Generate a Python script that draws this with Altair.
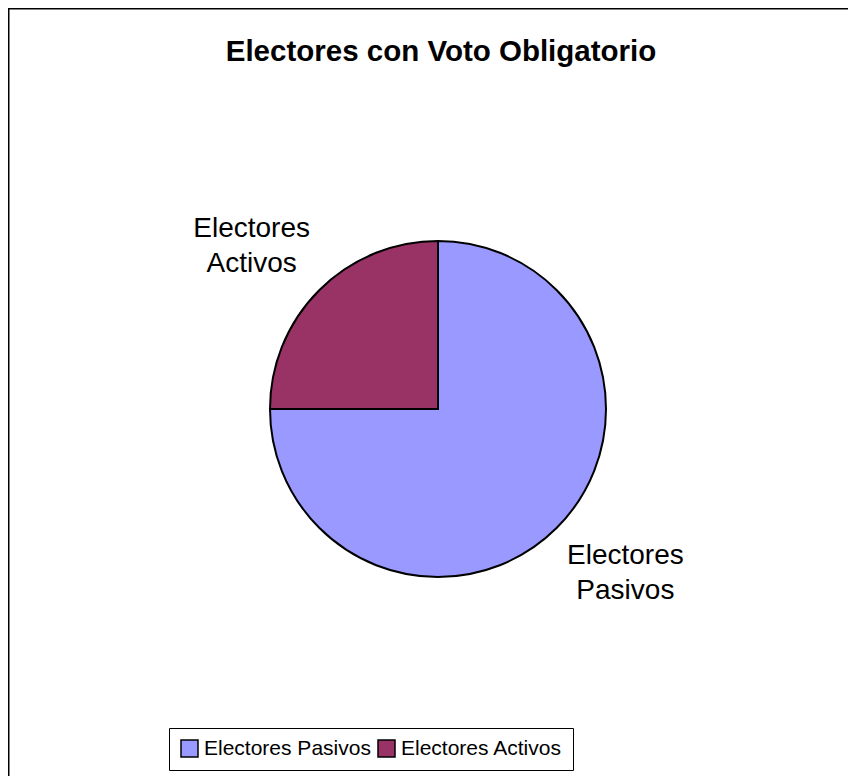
import altair as alt
import pandas as pd

# ---- data ----
categorias = ["Electores Pasivos", "Electores Activos"]
etiquetas = ["Electores\nPasivos", "Electores\nActivos"]
valores = [75, 25]
orden = [1, 2]
colores = ["#9999FF", "#993366"]
titulo = ["Electores con Voto Obligatorio"]

W, H = 840, 768
CX, CY = 430, 401

df = pd.DataFrame({"categoria": categorias, "etiqueta": etiquetas,
                   "valor": valores, "orden": orden})

pie = alt.Chart(df).mark_arc(outerRadius=168, stroke="black", strokeWidth=2).encode(
    theta=alt.Theta("valor:Q", stack=True),
    order=alt.Order("orden:Q"),
    x=alt.value(CX),
    y=alt.value(CY),
    color=alt.Color(
        "categoria:N",
        scale=alt.Scale(domain=categorias, range=colores),
        sort=categorias,
        legend=alt.Legend(
            title=None,
            orient="none",
            legendX=161,
            legendY=720,
            direction="horizontal",
            symbolType="square",
            symbolSize=289,
            symbolStrokeColor="black",
            symbolStrokeWidth=1.5,
            symbolOpacity=1,
            labelFont="Liberation Sans Narrow, Arial Narrow, Liberation Sans, Arial",
            labelFontSize=21,
            labelColor="black",
            labelOffset=4,
            columnPadding=4,
            padding=10,
            strokeColor="black",
            fillColor="white",
            labelLimit=400,
        ),
    ),
)

# stacked positions computed once, then each label is picked out
label_base = alt.Chart(df).transform_stack(
    stack="valor", groupby=[], as_=["v0", "v1"], sort=[alt.SortField("orden")]
).transform_calculate(
    mid="(datum.v0 + datum.v1) / 2"
).encode(
    theta=alt.Theta("mid:Q"),
    x=alt.value(CX),
    y=alt.value(CY),
    text="etiqueta:N",
)

text_style = dict(
    radius=248,
    font="Liberation Sans, Arial",
    fontSize=28,
    lineBreak="\n",
    lineHeight=35,
    align="center",
    baseline="middle",
    color="black",
)

label_pasivos = label_base.transform_filter(
    alt.datum.categoria == categorias[0]
).mark_text(dx=12, dy=-28, **text_style)

label_activos = label_base.transform_filter(
    alt.datum.categoria == categorias[1]
).mark_text(dx=-11, dy=-5, **text_style)

title_df = pd.DataFrame({"t": titulo})
title = alt.Chart(title_df).mark_text(
    font="Liberation Sans, Arial",
    fontSize=29.5,
    fontWeight="bold",
    align="center",
    baseline="alphabetic",
    color="black",
).encode(text="t:N", x=alt.value(433), y=alt.value(53))

border_df = pd.DataFrame({"b": [0]})
left_edge = alt.Chart(border_df).mark_rule(color="black", strokeWidth=1.5).encode(
    x=alt.value(0.75), y=alt.value(0), y2=alt.value(H)
)
top_edge = alt.Chart(border_df).mark_rule(color="black", strokeWidth=1.5).encode(
    y=alt.value(0.75), x=alt.value(0), x2=alt.value(W)
)

chart = alt.layer(pie, label_pasivos, label_activos, title, left_edge, top_edge).properties(
    width=W,
    height=H,
    autosize=alt.AutoSizeParams(type="none"),
    padding=0,
    background="white",
).configure_view(strokeWidth=0, stroke="transparent")

chart.save("out.html", embed_options={"renderer": "svg", "actions": False})
